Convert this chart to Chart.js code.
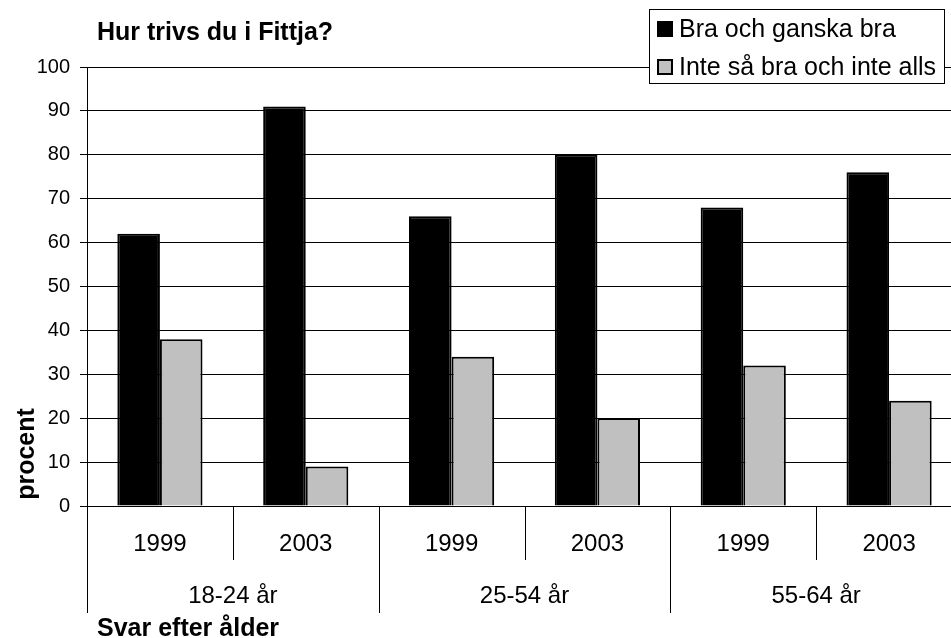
<!DOCTYPE html>
<html>
<head>
<meta charset="utf-8">
<script src="https://cdn.jsdelivr.net/npm/chart.js@4"></script>
<style>
  html, body { margin: 0; padding: 0; overflow: hidden; background: #fff; }
  #wrap { width: 962px; height: 638px; }
</style>
</head>
<body>
<div id="wrap"><canvas id="barChart"></canvas></div>
<script>
// Hur trivs du i Fittja? - grouped bars per year and age group

const years = ['1999', '2003', '1999', '2003', '1999', '2003']
const ageGroups = ['18-24 år', '25-54 år', '55-64 år']
const braValues = [62, 91, 66, 80, 68, 76]
const inteValues = [38, 9, 34, 20, 32, 24]
const seriesNames = ['Bra och ganska bra', 'Inte så bra och inte alls']

const FONT = "'Liberation Sans', Arial, sans-serif"

// draws title, legend, y title and the two-level x labels
const labelsPlugin = {
  id: 'labels',
  afterDraw(chart) {
    const ctx = chart.ctx
    const area = chart.chartArea
    const x = chart.scales.x
    const bottom = area.bottom
    ctx.save()
    ctx.fillStyle = '#000'
    ctx.strokeStyle = '#000'
    ctx.lineWidth = 1

    // title
    ctx.font = 'bold 25px ' + FONT
    ctx.textAlign = 'left'
    ctx.textBaseline = 'alphabetic'
    ctx.fillText('Hur trivs du i Fittja?', 97, 40)

    // y title
    ctx.save()
    ctx.translate(34, 454)
    ctx.rotate(-Math.PI / 2)
    ctx.textAlign = 'center'
    ctx.fillText('procent', 0, 0)
    ctx.restore()

    // x title
    ctx.fillText('Svar efter ålder', 97, 636)

    // separators
    const n = years.length
    const step = (area.right - area.left) / n
    for (let i = 0; i <= n; i++) {
      const bx = Math.round(area.left + i * step) + 0.5
      const long = i % 2 === 0
      ctx.beginPath()
      ctx.moveTo(bx, bottom)
      ctx.lineTo(bx, long ? 613 : 560)
      ctx.stroke()
    }

    // year labels
    ctx.font = '24px ' + FONT
    ctx.textAlign = 'center'
    ctx.textBaseline = 'middle'
    years.forEach((y, i) => {
      ctx.fillText(y, x.getPixelForValue(i), 544)
    })
    // age group labels
    ageGroups.forEach((g, i) => {
      const cx = (x.getPixelForValue(i * 2) + x.getPixelForValue(i * 2 + 1)) / 2
      ctx.fillText(g, cx, 596)
    })

    // legend
    ctx.fillStyle = '#fff'
    ctx.fillRect(649, 9, 296, 75)
    ctx.strokeRect(649.5, 9.5, 295, 74)
    ctx.font = '25px ' + FONT
    ctx.textAlign = 'left'
    ctx.lineWidth = 2
    chart.data.datasets.forEach((ds, i) => {
      const cy = 29 + i * 38
      ctx.fillStyle = ds.backgroundColor
      ctx.fillRect(657, cy - 8, 16, 16)
      ctx.strokeRect(658, cy - 7, 14, 14)
      ctx.fillStyle = '#000'
      ctx.fillText(ds.label, 679, cy + 1)
    })
    ctx.restore()
  },
}

function drawBarChart() {
  const data = {
    labels: years,
    datasets: [
      {
        label: seriesNames[0],
        data: braValues,
        backgroundColor: '#000000',
        borderColor: '#000000',
        borderWidth: 2,
      },
      {
        label: seriesNames[1],
        data: inteValues,
        backgroundColor: '#c0c0c0',
        borderColor: '#000000',
        borderWidth: 2,
      },
    ],
  }

  const config = {
    type: 'bar',
    data: data,
    options: {
      responsive: true,
      maintainAspectRatio: false,
      animation: false,
      layout: { padding: { top: 67, bottom: 132, left: 0, right: 0 } },
      datasets: {
        bar: { categoryPercentage: 0.584, barPercentage: 1 },
      },
      plugins: {
        legend: { display: false },
        title: { display: false },
        tooltip: { enabled: false },
      },
      scales: {
        x: { display: false },
        y: {
          min: 0,
          max: 100,
          afterFit: (s) => { s.width = 87 },
          ticks: {
            stepSize: 10,
            color: '#000',
            padding: 10,
            font: { family: FONT, size: 20 },
          },
          grid: { color: '#000', lineWidth: 1, tickLength: 7 },
          border: { display: true, color: '#000', width: 1 },
        },
      },
    },
    plugins: [labelsPlugin],
  }

  const myChart = new Chart(document.getElementById('barChart'), config)
}

drawBarChart()
</script>
</body>
</html>
